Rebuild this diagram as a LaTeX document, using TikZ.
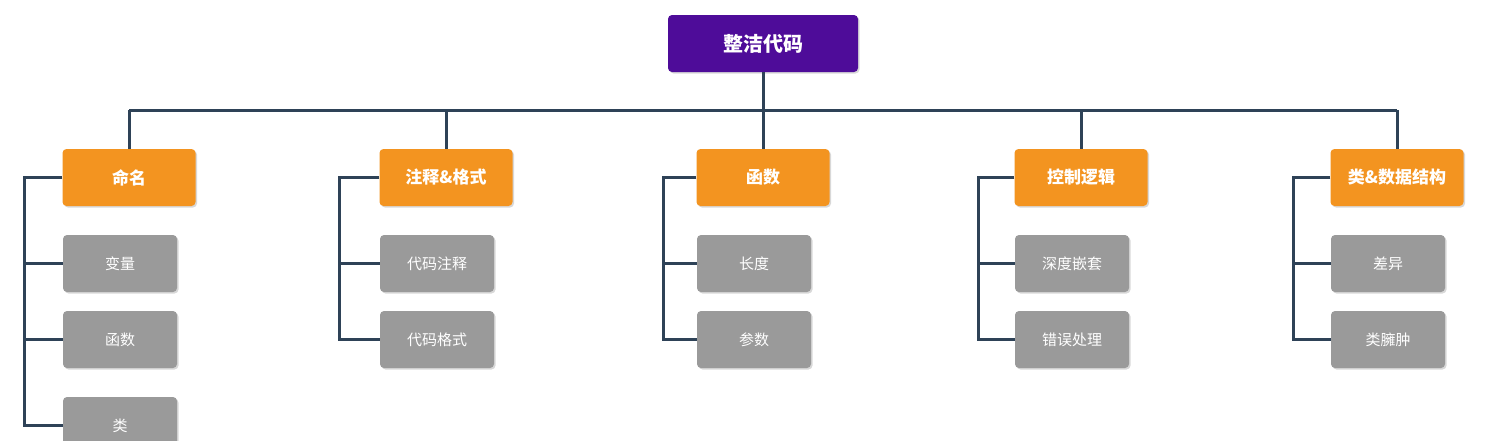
\documentclass[tikz,border=0pt]{standalone}
\usepackage{fontspec}
\newfontfamily\cjk{Noto Sans CJK SC}
\usetikzlibrary{shadows}
\definecolor{rootc}{HTML}{4E0C99}
\definecolor{catc}{HTML}{F39420}
\definecolor{leafc}{HTML}{9A9A9A}
\definecolor{linec}{HTML}{2E4257}
\tikzset{
 base/.style={rounded corners=4pt, text=white, font=\cjk\fontsize{15}{18}\selectfont, inner sep=0pt, drop shadow={shadow xshift=1.5pt,shadow yshift=-1.5pt,opacity=0.3}},
 rootbox/.style={base, fill=rootc, minimum width=190pt, minimum height=57pt, font=\cjk\bfseries\fontsize{20}{24}\selectfont},
 catbox/.style={base, fill=catc, minimum width=133pt, minimum height=57pt, font=\cjk\bfseries\fontsize{17}{20}\selectfont},
 leafbox/.style={base, fill=leafc, minimum width=114pt, minimum height=57pt},
 conn/.style={draw=linec, line width=3pt}
}
\begin{document}
\begin{tikzpicture}[x=1pt,y=-1pt]
\fill[white] (0,0) rectangle (1496,440);
\useasboundingbox (0,0) rectangle (1496,440);
\clip (0,0) rectangle (1496,440);
\node[rootbox] (root) at (763,43.5) {整洁代码};
\coordinate (bus) at (763,110);
\foreach \n/\x/\t/\lx in {c1/129/命名/24, c2/446/注释\&格式/339, c3/763/函数/663, c4/1081/控制逻辑/978, c5/1397/类\&数据结构/1293}{
  \node[catbox] (\n) at (\x,177.5) {\t};
  \coordinate (\n top) at (\x,110);
  \coordinate (\n l) at (\lx,177.5);
}
\draw[conn] (root.south) -- (bus);
\draw[conn] (c1top) -- (c5top);
\foreach \n in {c1,c2,c3,c4,c5}{\draw[conn] (\n top) -- (\n.north);}
% children
\foreach \n/\x/\lx/\a/\b in {c1/120/24/变量/函数, c2/437/339/代码注释/代码格式, c3/754/663/长度/参数, c4/1072/978/深度嵌套/错误处理, c5/1388/1293/差异/类臃肿}{
  \node[leafbox] (\n a) at (\x,263.5) {\a};
  \node[leafbox] (\n b) at (\x,339.5) {\b};
  \draw[conn] (\n.west) -- (\n l) |- (\n b.west);
  \draw[conn] (\n l |- \n a.west) -- (\n a.west);
}
\node[leafbox] (c1c) at (120,425.5) {类};
\draw[conn] (c1l) |- (c1c.west);
\end{tikzpicture}
\end{document}
